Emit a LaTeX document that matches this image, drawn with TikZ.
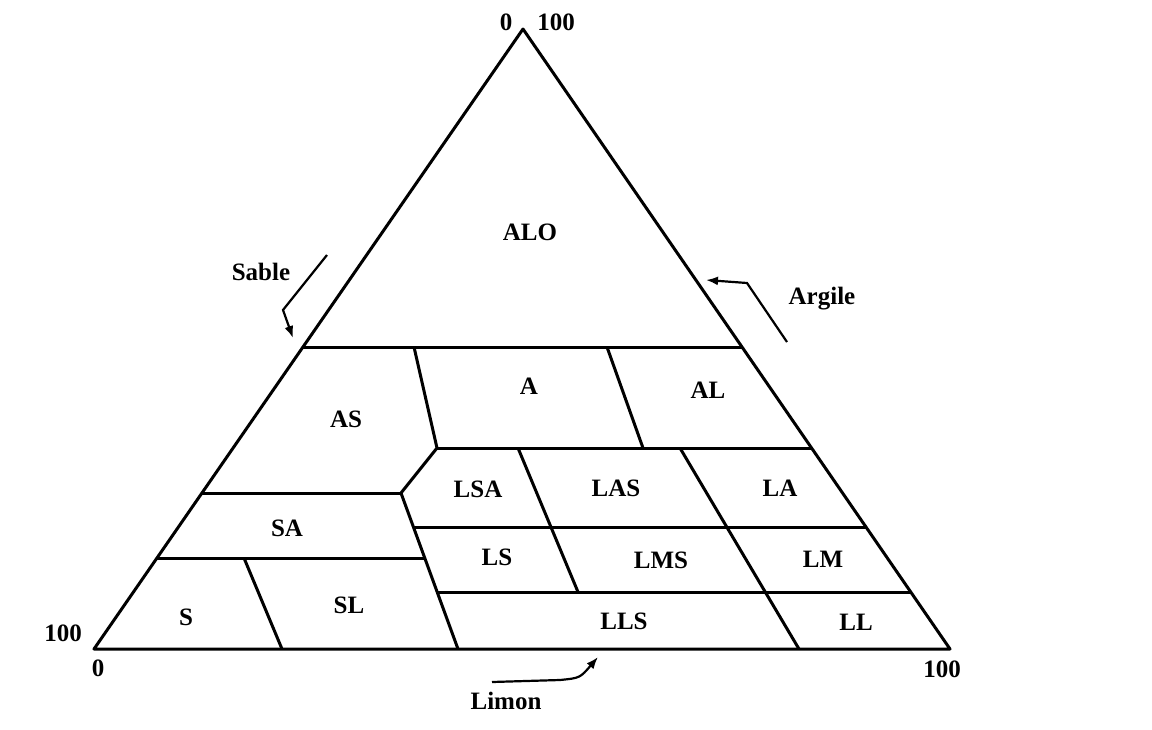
\documentclass[tikz,border=0pt]{standalone}
\usepackage{fontspec}
\setmainfont{Liberation Serif}
\usetikzlibrary{arrows.meta}

\begin{document}
\begin{tikzpicture}[x=0.5pt,y=-0.5pt, every node/.style={align=center},
    lbl/.style={font=\fontsize{12.5}{14}\selectfont\bfseries, inner sep=0pt},
    zone/.style={line width=1.5pt, line join=round},
    pointer/.style={line width=1.1pt, -{Latex[length=6pt,width=4.5pt]}}]
  \useasboundingbox (0,0) rectangle (1152,729);
  % corners of the triangle
  \coordinate (bl) at (94,649);
  \coordinate (br) at (950,649);
  \coordinate (top) at (523,29);
  \draw[zone] (bl) -- (top) -- (br) -- cycle;
  % horizontal limits
  \draw[zone] (303,347) -- (742,347);
  \draw[zone] (437,448) -- (811.5,448);
  \draw[zone] (202,493) -- (401,493);
  \draw[zone] (413.5,527) -- (866,527);
  \draw[zone] (157,558) -- (424.5,558);
  \draw[zone] (437,592) -- (910.5,592);
  % oblique limits
  \draw[zone] (414,347) -- (437,448) -- (401,493) -- (458,649);
  \draw[zone] (607,347) -- (643,448);
  \draw[zone] (518,448) -- (578,592);
  \draw[zone] (680,448) -- (799,649);
  \draw[zone] (244,558) -- (282,649);
  % class names
  \node[lbl] (alo) at (530,232) {ALO};
  \node[lbl] (as) at (346,419) {AS};
  \node[lbl] (a) at (529,386) {A};
  \node[lbl] (al) at (708,390) {AL};
  \node[lbl] (lsa) at (478,489) {LSA};
  \node[lbl] (las) at (616,488) {LAS};
  \node[lbl] (la) at (780,488) {LA};
  \node[lbl] (sa) at (287,528) {SA};
  \node[lbl] (ls) at (497,557) {LS};
  \node[lbl] (lms) at (661,560) {LMS};
  \node[lbl] (lm) at (823,559) {LM};
  \node[lbl] (s) at (186,617) {S};
  \node[lbl] (sl) at (349,605) {SL};
  \node[lbl] (lls) at (624,621) {LLS};
  \node[lbl] (ll) at (856,622) {LL};
  % scale values
  \node[lbl] (topzero) at (506,22) {0};
  \node[lbl] (topcent) at (556,22) {100};
  \node[lbl] (leftcent) at (63,633) {100};
  \node[lbl] (leftzero) at (98,668) {0};
  \node[lbl] (rightcent) at (942,669) {100};
  % axis names and their arrows
  \node[lbl] (sable) at (261,272) {Sable};
  \node[lbl] (argile) at (822,299) {Argile};
  \node[lbl] (limon) at (506,701) {Limon};
  \coordinate (sableA) at (327,255);
  \coordinate (sableB) at (293,338);
  \coordinate (argileA) at (787,342);
  \coordinate (argileB) at (706,280);
  \coordinate (limonA) at (492,682);
  \coordinate (limonB) at (598,657);
  \draw[pointer] (sableA) -- (283,310) -- (sableB);
  \draw[pointer] (argileA) -- (747,283) -- (argileB);
  \draw[pointer] (limonA) -- (560,680) .. controls (580,678) .. (limonB);
\end{tikzpicture}
\end{document}
